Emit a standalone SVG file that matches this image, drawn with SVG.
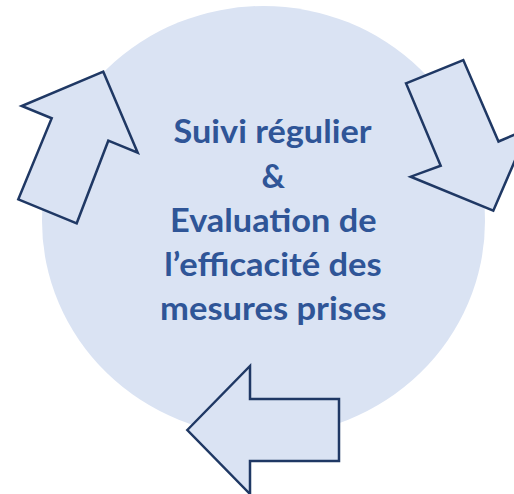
<svg xmlns="http://www.w3.org/2000/svg" width="514" height="494" viewBox="0 0 514 494">
  <style>
    .bg { fill: #DAE3F3; }
    .arrow { fill: #DAE3F3; stroke: #1F3864; stroke-width: 2.5; stroke-linejoin: miter; }
    .label { font-family: Lato, "Open Sans", "Liberation Sans", sans-serif; font-weight: bold; font-size: 32px; fill: #2F5597; text-anchor: middle; }
  </style>
  <rect width="514" height="494" fill="#FFFFFF"/>
  <g id="cycle">
    <ellipse class="bg" cx="263.5" cy="221" rx="221.5" ry="215"/>
  </g>
  <g id="connectors">
    <polygon id="arrow-up-left" class="arrow" points="103.3,71.7 137.7,152.7 108.3,140.7 76.7,223.3 18.3,199.3 51.7,118.3 21.7,106"/>
    <polygon id="arrow-down-right" class="arrow" points="406,83.3 463.3,60 498.5,141.5 528.7,128.7 493.3,210.7 410.7,176.7 440.7,165.7"/>
    <polygon id="arrow-left" class="arrow" points="187.3,430 250,366 250,399 339,399 339,461 250,461 250,494"/>
  </g>
  <g id="center-label">
    <text class="label" x="272.5" y="143" textLength="198" lengthAdjust="spacingAndGlyphs">Suivi régulier</text>
    <text class="label" x="273.3" y="187.5" textLength="23.5" lengthAdjust="spacingAndGlyphs">&amp;</text>
    <text class="label" x="273.3" y="232" textLength="206.5" lengthAdjust="spacingAndGlyphs">Evaluation de</text>
    <text class="label" x="273" y="276" textLength="217.5" lengthAdjust="spacingAndGlyphs">l’efficacité des</text>
    <text class="label" x="273.3" y="320" textLength="226.5" lengthAdjust="spacingAndGlyphs">mesures prises</text>
  </g>
</svg>
